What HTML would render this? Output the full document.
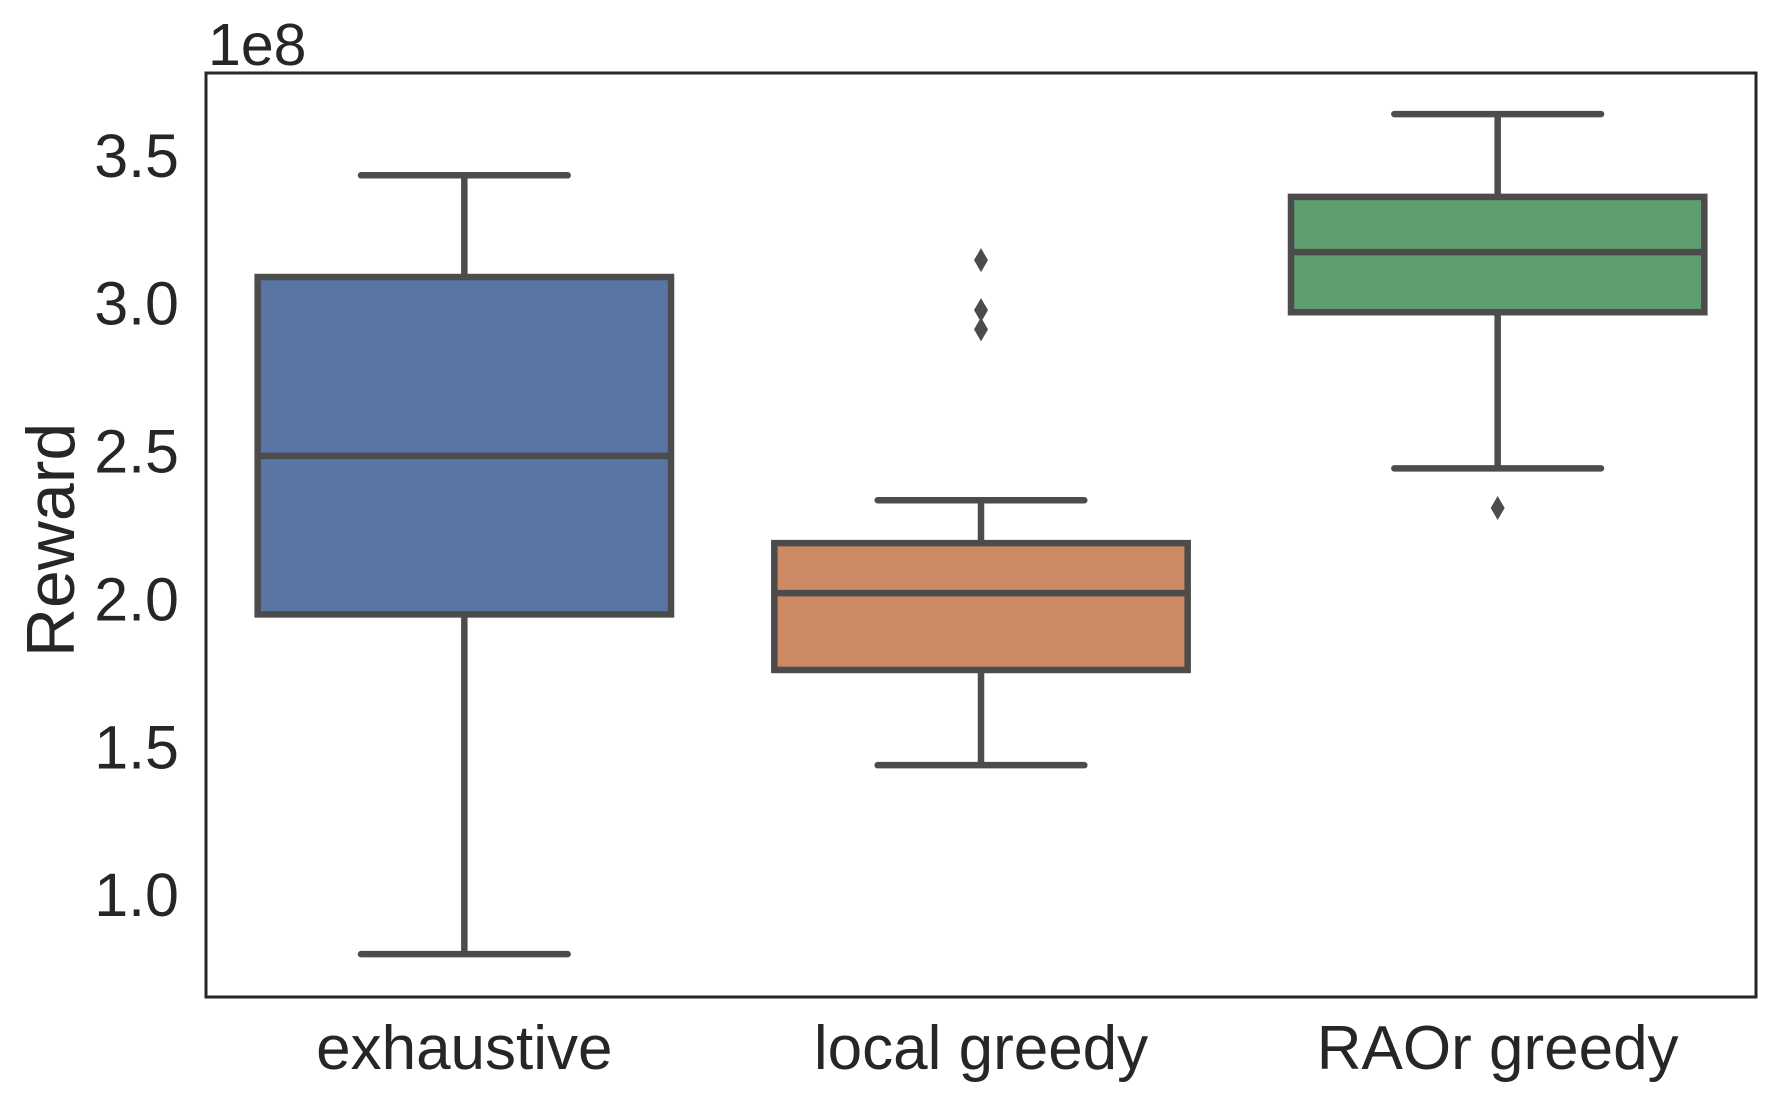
<!DOCTYPE html>
<html><head><meta charset="utf-8"><style>
html,body{margin:0;padding:0;background:#fff;}
svg text{font-family:"Liberation Sans",Arial,sans-serif;fill:#262626;}
</style></head><body>
<svg id="chart" width="1776" height="1101" viewBox="0 0 1776 1101" xmlns="http://www.w3.org/2000/svg"></svg>
<script>
const categories = ["exhaustive", "local greedy", "RAOr greedy"];
const whiskerLow = [0.797, 1.436, 2.440];
const q1 = [1.946, 1.758, 2.968];
const medians = [2.482, 2.018, 3.171];
const q3 = [3.087, 2.187, 3.358];
const whiskerHigh = [3.431, 2.332, 3.638];
const outliers = [[], [3.144, 2.975, 2.910], [2.306]];
const colors = ["#5875a4", "#cc8963", "#5f9e6e"];
const yTicks = [1.0, 1.5, 2.0, 2.5, 3.0, 3.5];
const tickLabels = ["1.0", "1.5", "2.0", "2.5", "3.0", "3.5"];

const svg = document.getElementById('chart');
const NS = "http://www.w3.org/2000/svg";
const L = 206, R = 1756, T = 73, B = 997;
const yMin = 0.652, yMax = 3.777;
function y(v){ return B - (v - yMin) / (yMax - yMin) * (B - T); }
const band = (R - L) / categories.length;
function x(i){ return L + band * (i + 0.5); }
const boxW = band * 0.8, capW = band * 0.4;
function mk(tag, attrs){ const e = document.createElementNS(NS, tag); for (const k in attrs) e.setAttribute(k, attrs[k]); svg.appendChild(e); return e; }
const lc = "#4c4c4c", lw = 6.5;

categories.forEach((c, i) => {
  const cx = x(i);
  let e = mk('line', {x1:cx, x2:cx, y1:y(whiskerHigh[i]), y2:y(q3[i]), stroke:lc, 'stroke-width':lw});
  
  
  e = mk('line', {x1:cx, x2:cx, y1:y(q1[i]), y2:y(whiskerLow[i]), stroke:lc, 'stroke-width':lw});
  
  
  e = mk('line', {x1:cx-capW/2, x2:cx+capW/2, y1:y(whiskerHigh[i]), y2:y(whiskerHigh[i]), stroke:lc, 'stroke-width':lw, 'stroke-linecap':'round'});
  
  
  e = mk('line', {x1:cx-capW/2, x2:cx+capW/2, y1:y(whiskerLow[i]), y2:y(whiskerLow[i]), stroke:lc, 'stroke-width':lw, 'stroke-linecap':'round'});
  
  
  e = mk('rect', {x:cx-boxW/2, y:y(q3[i]), width:boxW, height:y(q1[i])-y(q3[i]), fill:colors[i], stroke:lc, 'stroke-width':lw});
  
  
  e = mk('line', {x1:cx-boxW/2, x2:cx+boxW/2, y1:y(medians[i]), y2:y(medians[i]), stroke:lc, 'stroke-width':lw});
  
  
  outliers[i].forEach(v => {
    const oy = y(v);
    const p = mk('polygon', {points:`${cx},${oy-12} ${cx+7},${oy} ${cx},${oy+12} ${cx-7},${oy}`, fill:lc});
    
    
  });
  const t = mk('text', {x:cx, y:1069, 'font-size':62, 'text-anchor':'middle'});
  t.textContent = c;
  
  
});

yTicks.forEach((v, k) => {
  const t = mk('text', {x:179, y:y(v)+22, 'font-size':61, 'text-anchor':'end'});
  t.textContent = tickLabels[k];
  
  
});

let frame = mk('rect', {x:L, y:T, width:R-L, height:B-T, fill:'none', stroke:'#262626', 'stroke-width':3});



let off = mk('text', {x:208, y:65, 'font-size':59});
off.textContent = '1e8';



let yl = mk('text', {x:0, y:0, 'font-size':68, 'text-anchor':'middle', transform:'translate(74,540) rotate(-90)'});
yl.textContent = 'Reward';


</script>
</body></html>
